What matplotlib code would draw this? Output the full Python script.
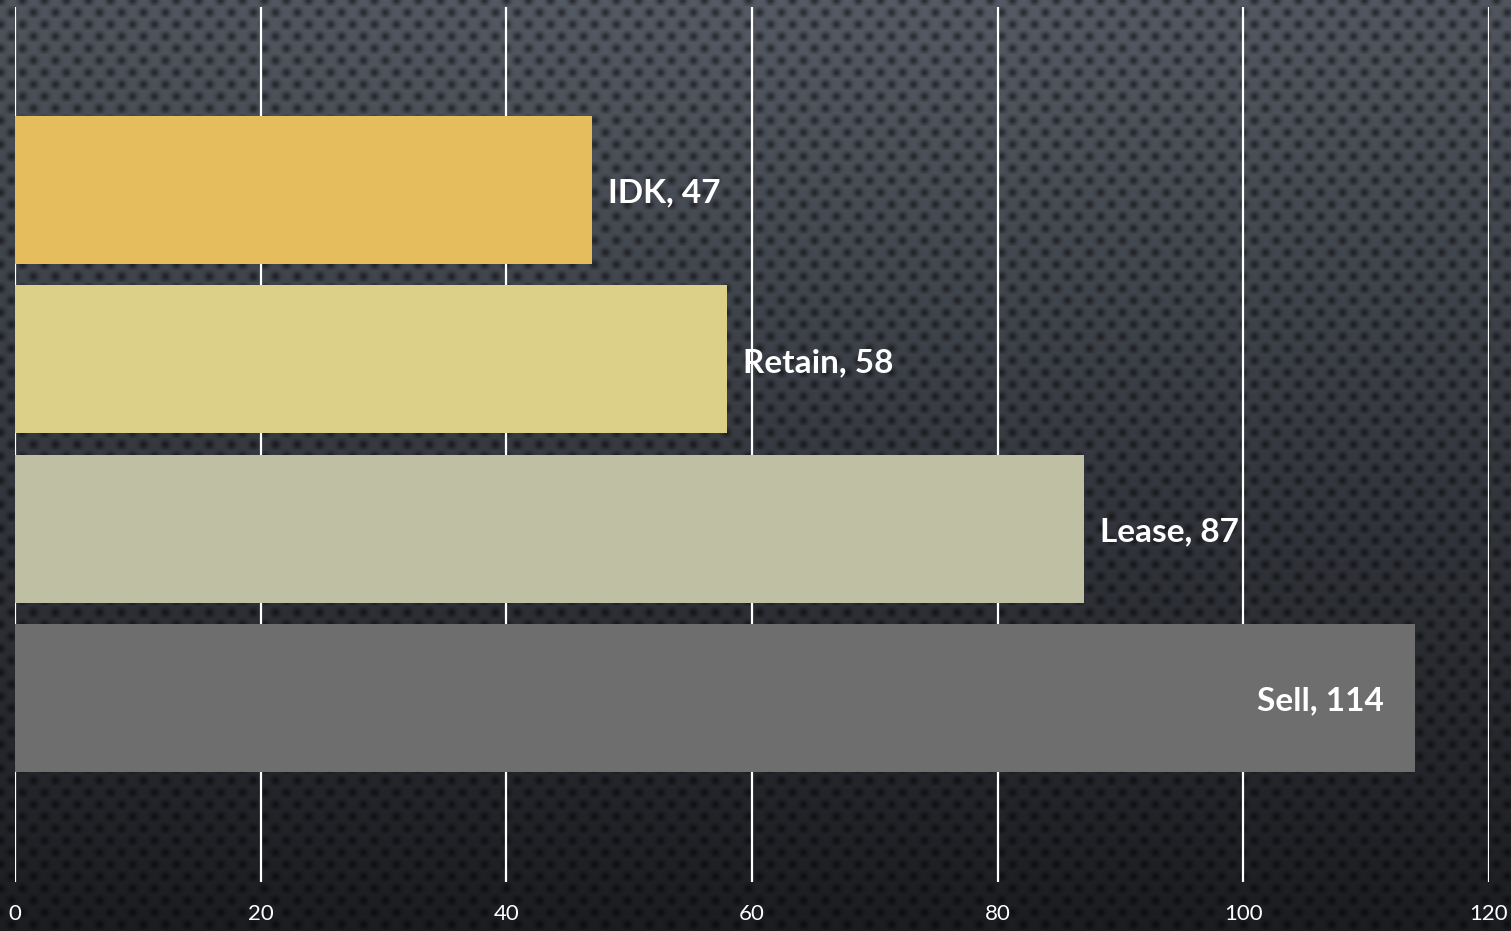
import matplotlib
matplotlib.use("Agg")
import matplotlib.pyplot as plt
import numpy as np

# Data
categories = ["IDK", "Retain", "Lease", "Sell"]
values = [47, 58, 87, 114]
bar_colors = ["#E6BD5C", "#DCD088", "#BFBFA3", "#6E6E6E"]
x_ticks = [0, 20, 40, 60, 80, 100, 120]

W, H = 1511, 931
fig = plt.figure(figsize=(W / 100, H / 100), dpi=100)

# Perforated metal background: vertical gradient + hex dot lattice
yy, xx = np.mgrid[0:H, 0:W].astype(float)
t = yy / (H - 1)
top = np.array([0x4c, 0x51, 0x5a]) / 255.0
bot = np.array([0x1c, 0x1d, 0x21]) / 255.0
base = top[None, None, :] * (1 - t[..., None]) + bot[None, None, :] * t[..., None]
# slight brighter glow at top centre
glow = np.exp(-(((xx - W * 0.55) / (W * 0.5)) ** 2 + (yy / (H * 0.45)) ** 2))
base = base * (1 + 0.12 * glow[..., None])

dx, dy = 22.0, 12.0
row = np.floor(yy / dy + 0.5)
cy = row * dy
shift = (row % 2) * dx / 2
cx = np.floor((xx - shift) / dx + 0.5) * dx + shift
d2 = (xx - cx) ** 2 + (yy - cy) ** 2
dots = np.exp(-d2 / (2 * 3.2 ** 2))
img = base * (1 - 0.5 * dots[..., None])
img = np.clip(img, 0, 1)

bg = fig.add_axes([0, 0, 1, 1], zorder=0)
bg.imshow(img, aspect="auto", interpolation="bilinear")
bg.axis("off")

# Main chart
left, right = 15 / W, 1489 / W
bottom, top_px = (H - 882) / H, (H - 7) / H
ax = fig.add_axes([left, bottom, right - left, top_px - bottom], zorder=1)
ax.patch.set_alpha(0)

y = np.arange(len(categories))
ax.barh(y, values, height=0.873, color=bar_colors, zorder=3)

ax.set_xlim(0, 120)
ax.set_ylim(len(categories) - 1 + 1.085, -1.08)
ax.set_xticks(x_ticks)
ax.set_xticklabels([str(v) for v in x_ticks])
ax.set_yticks([])
ax.tick_params(axis="x", length=0, pad=16, labelsize=16, labelcolor="white")
for lab in ax.get_xticklabels():
    lab.set_fontfamily("Lato")
ax.grid(axis="x", color="white", linewidth=1.6, zorder=1)
ax.set_axisbelow(True)
for s in ax.spines.values():
    s.set_visible(False)

for i, (cat, v) in enumerate(zip(categories, values)):
    txt = f"{cat}, {v}"
    if v > 100:
        ax.annotate(txt, (v, i), xytext=(-31, -3), textcoords="offset pixels",
                    ha="right", va="center", color="white", fontsize=24,
                    fontweight="bold", fontfamily="Lato", zorder=4)
    else:
        ax.annotate(txt, (v, i), xytext=(16, -3), textcoords="offset pixels",
                    ha="left", va="center", color="white", fontsize=24,
                    fontweight="bold", fontfamily="Lato", zorder=4)

fig.savefig("out.png", dpi=100)
